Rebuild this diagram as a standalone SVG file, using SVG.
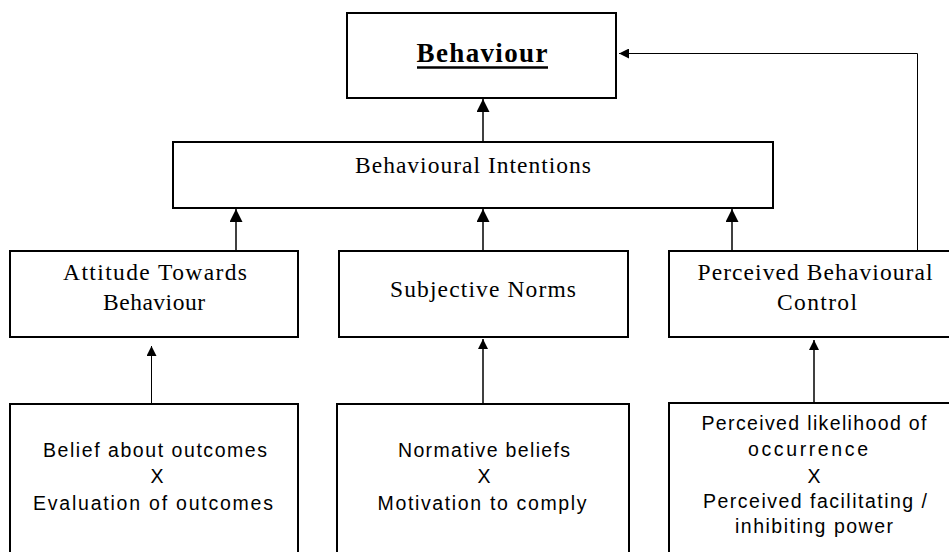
<svg xmlns="http://www.w3.org/2000/svg" width="949" height="552" viewBox="0 0 949 552">
  <defs>
    <style>
      .box { fill: #fff; stroke: #000; stroke-width: 2; }
      .serif { font-family: "Liberation Serif", "Times New Roman", serif; font-size: 23.5px; fill: #000; text-anchor: middle; }
      .title { font-family: "Liberation Serif", "Times New Roman", serif; font-size: 27px; font-weight: bold; fill: #000; text-anchor: middle; }
      .sans { font-family: "Liberation Sans", Arial, sans-serif; font-size: 19.5px; fill: #000; text-anchor: middle; }
      .link { fill: none; stroke: #000; stroke-width: 1.5; }
      .thin { stroke-width: 1; }
    </style>
    <marker id="arrow" viewBox="0 0 10 10" refX="10" refY="5" markerWidth="11" markerHeight="10" markerUnits="userSpaceOnUse" orient="auto">
      <path d="M0,0 L10,5 L0,10 Z" fill="#000"/>
    </marker>
    <marker id="arrow-lg" viewBox="0 0 10 10" refX="10" refY="5" markerWidth="13" markerHeight="13" markerUnits="userSpaceOnUse" orient="auto">
      <path d="M0,0 L10,5 L0,10 Z" fill="#000"/>
    </marker>
  </defs>

  <rect width="949" height="552" fill="#fff"/>

  <!-- connectors -->
  <g id="connectors">
    <line class="link" x1="483" y1="142" x2="483" y2="99" marker-end="url(#arrow-lg)"/>
    <line class="link" x1="236" y1="251" x2="236" y2="209" marker-end="url(#arrow-lg)"/>
    <line class="link" x1="483" y1="251" x2="483" y2="209" marker-end="url(#arrow-lg)"/>
    <line class="link" x1="732" y1="251" x2="732" y2="209" marker-end="url(#arrow-lg)"/>
    <polyline class="link thin" points="917.5,251 917.5,53.5 619,53.5" marker-end="url(#arrow)"/>
    <line class="link thin" x1="151.5" y1="404" x2="151.5" y2="346" marker-end="url(#arrow)"/>
    <line class="link" x1="483" y1="404" x2="483" y2="339" marker-end="url(#arrow)"/>
    <line class="link" x1="814" y1="404" x2="814" y2="340" marker-end="url(#arrow)"/>
  </g>

  <!-- top: behaviour -->
  <g id="behaviour">
    <rect class="box" x="347" y="13" width="269" height="85"/>
    <text class="title" x="482" y="62" textLength="131" lengthAdjust="spacing">Behaviour</text>
    <line x1="417" y1="67.5" x2="548" y2="67.5" stroke="#000" stroke-width="2.5"/>
  </g>

  <g id="intentions">
    <rect class="box" x="173" y="142" width="600" height="66"/>
    <text class="serif" x="473" y="173" textLength="236" lengthAdjust="spacing">Behavioural Intentions</text>
  </g>

  <!-- middle row -->
  <g id="attitude">
    <rect class="box" x="10" y="251" width="288" height="86"/>
    <text class="serif" x="155" y="280" textLength="184" lengthAdjust="spacing">Attitude Towards</text>
    <text class="serif" x="154" y="310" textLength="102" lengthAdjust="spacing">Behaviour</text>
  </g>

  <g id="norms">
    <rect class="box" x="339" y="251" width="289" height="86"/>
    <text class="serif" x="483" y="297" textLength="186" lengthAdjust="spacing">Subjective Norms</text>
  </g>

  <g id="control">
    <rect class="box" x="669" y="251" width="300" height="86"/>
    <text class="serif" x="815" y="280" textLength="235" lengthAdjust="spacing">Perceived Behavioural</text>
    <text class="serif" x="817" y="310" textLength="80" lengthAdjust="spacing">Control</text>
  </g>

  <!-- bottom row -->
  <g id="beliefs-outcomes">
    <rect class="box" x="10" y="404" width="288" height="170"/>
    <text class="sans" x="155" y="457" textLength="224" lengthAdjust="spacing">Belief about outcomes</text>
    <text class="sans" x="157" y="483">X</text>
    <text class="sans" x="153" y="510" textLength="240" lengthAdjust="spacing">Evaluation of outcomes</text>
  </g>

  <g id="normative-beliefs">
    <rect class="box" x="337" y="404" width="292" height="170"/>
    <text class="sans" x="484" y="457" textLength="172" lengthAdjust="spacing">Normative beliefs</text>
    <text class="sans" x="484" y="483">X</text>
    <text class="sans" x="482" y="510" textLength="209" lengthAdjust="spacing">Motivation to comply</text>
  </g>

  <g id="control-beliefs">
    <rect class="box" x="669" y="403" width="300" height="170"/>
    <text class="sans" x="814" y="430" textLength="225" lengthAdjust="spacing">Perceived likelihood of</text>
    <text class="sans" x="808" y="456" textLength="120" lengthAdjust="spacing">occurrence</text>
    <text class="sans" x="814" y="483">X</text>
    <text class="sans" x="815" y="508" textLength="224" lengthAdjust="spacing">Perceived facilitating /</text>
    <text class="sans" x="814" y="533" textLength="158" lengthAdjust="spacing">inhibiting power</text>
  </g>
</svg>
